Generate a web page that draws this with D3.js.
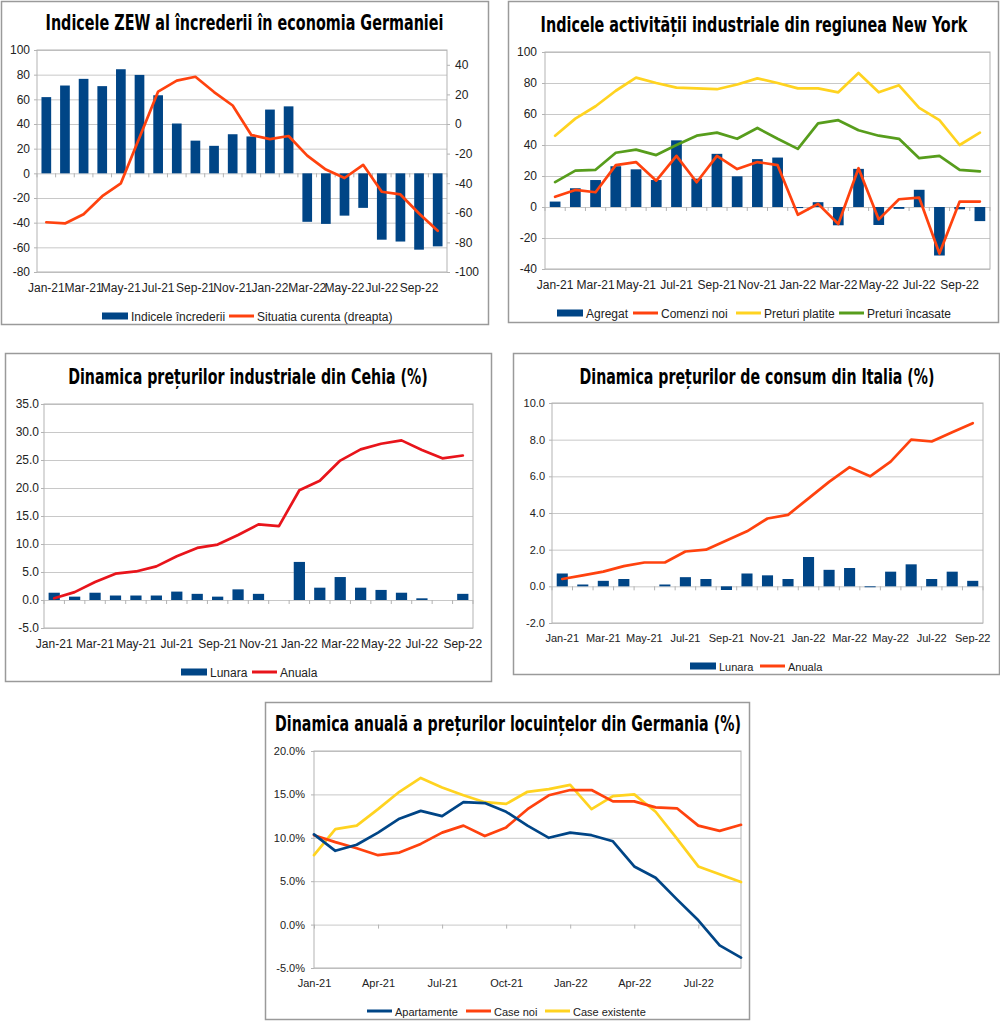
<!DOCTYPE html>
<html>
<head>
<meta charset="utf-8">
<script src="https://cdn.jsdelivr.net/npm/d3@7"></script>
<style>
body { margin: 0; background: #fff; }
svg text { font-family: "Liberation Sans", Arial, sans-serif; fill: #222; }
svg text.title { font-family: "Liberation Sans Narrow", "DejaVu Sans Condensed", sans-serif; font-weight: bold; fill: #000; }
</style>
</head>
<body>
<svg id="chart" width="1000" height="1021"></svg>
<script>
// categories
var months22 = ["Jan-21","Feb-21","Mar-21","Apr-21","May-21","Jun-21","Jul-21","Aug-21","Sep-21","Oct-21","Nov-21","Dec-21",
                "Jan-22","Feb-22","Mar-22","Apr-22","May-22","Jun-22","Jul-22","Aug-22","Sep-22","Oct-22"];
var months21 = ["Jan-21","Feb-21","Mar-21","Apr-21","May-21","Jun-21","Jul-21","Aug-21","Sep-21","Oct-21","Nov-21","Dec-21",
                "Jan-22","Feb-22","Mar-22","Apr-22","May-22","Jun-22","Jul-22","Aug-22","Sep-22"];
var ticks2m = ["Jan-21","Mar-21","May-21","Jul-21","Sep-21","Nov-21","Jan-22","Mar-22","May-22","Jul-22","Sep-22"];
var ticks3m = ["Jan-21","Apr-21","Jul-21","Oct-21","Jan-22","Apr-22","Jul-22"];

// ZEW Germania
var zewIndex   = [61.8, 71.2, 76.6, 70.7, 84.4, 79.8, 63.3, 40.4, 26.5, 22.3, 31.7, 29.9, 51.7, 54.3, -39.3, -41.0, -34.3, -28.0, -53.8, -55.3, -61.9, -59.2];
var zewCurrent = [-66.4, -67.2, -61.0, -48.8, -40.1, -9.1, 21.9, 29.3, 31.9, 21.6, 12.5, -7.4, -10.2, -8.1, -21.4, -30.8, -36.5, -27.6, -45.8, -47.6, -60.5, -72.2];

// Empire State (New York)
var nyGeneral    = [3.5, 12.1, 17.4, 26.3, 24.3, 17.4, 43.0, 18.3, 34.3, 19.8, 30.9, 31.9, -0.7, 3.1, -11.8, 24.6, -11.6, -1.2, 11.1, -31.3, -1.5, -9.1];
var nyNewOrders  = [6.6, 11.0, 9.5, 27.0, 29.0, 17.0, 33.0, 16.0, 33.0, 24.5, 29.0, 27.0, -5.0, 2.0, -11.0, 25.0, -8.0, 5.0, 6.0, -30.0, 3.5, 3.5];
var nyPricesPaid = [46, 57, 65, 75, 83.5, 80, 77, 76.5, 76, 79, 83, 80, 76.5, 76.5, 74, 86.5, 74, 78.5, 64, 56, 40, 48];
var nyPricesRec  = [16, 23.5, 24, 35, 37, 33.5, 40, 46, 48, 44, 51, 44, 37.5, 54, 56, 49.5, 46, 44, 31.5, 33, 24, 23];

// Cehia - preturi industriale
var czMonthly = [1.3, 0.6, 1.3, 0.8, 0.8, 0.8, 1.5, 1.1, 0.6, 1.9, 1.1, 0.0, 6.8, 2.2, 4.1, 2.2, 1.8, 1.3, 0.3, 0.0, 1.1];
var czAnnual  = [0.3, 1.4, 3.2, 4.7, 5.1, 6.0, 7.8, 9.3, 9.9, 11.6, 13.5, 13.2, 19.6, 21.3, 24.9, 26.9, 27.9, 28.5, 26.8, 25.3, 25.8];

// Italia - preturi de consum
var itMonthly = [0.7, 0.1, 0.3, 0.4, 0.0, 0.1, 0.5, 0.4, -0.2, 0.7, 0.6, 0.4, 1.6, 0.9, 1.0, -0.05, 0.8, 1.2, 0.4, 0.8, 0.3];
var itAnnual  = [0.4, 0.6, 0.8, 1.1, 1.3, 1.3, 1.9, 2.0, 2.5, 3.0, 3.7, 3.9, 4.8, 5.7, 6.5, 6.0, 6.8, 8.0, 7.9, 8.4, 8.9];

// Germania - preturi locuinte
var deFlats    = [10.4, 8.5, 9.2, 10.6, 12.2, 13.1, 12.5, 14.1, 14.0, 13.0, 11.4, 10.0, 10.6, 10.3, 9.6, 6.7, 5.4, 2.9, 0.5, -2.4, -3.8];
var deNewHouse = [10.3, 9.5, 8.8, 8.0, 8.3, 9.3, 10.6, 11.4, 10.2, 11.2, 13.3, 14.9, 15.5, 15.5, 14.2, 14.2, 13.5, 13.4, 11.4, 10.8, 11.5];
var deExisting = [8.0, 11.0, 11.4, 13.3, 15.3, 16.9, 15.8, 14.9, 14.1, 13.9, 15.3, 15.6, 16.1, 13.3, 14.8, 15.0, 13.0, 9.9, 6.7, 5.8, 4.9];

var BLUE = "#004586", ORANGE = "#ff420e", YELLOW = "#ffd320", GREEN = "#579d1c", RED = "#e8141b";
var GRID = "#c8c8c8", AXIS = "#b3b3b3";

var svg = d3.select("#chart");

function box(x, y, w, h) {
    svg.append("rect")
        .attr("x", x).attr("y", y).attr("width", w).attr("height", h)
        .style("fill", "none").style("stroke", "#9a9a9a").style("stroke-width", 1.5);
}

// condensed bold title, squeezed horizontally to the reference width
function title(text, cx, y, len) {
    var g = svg.append("g");
    var t = g.append("text")
        .attr("class", "title")
        .attr("x", 0).attr("y", 0)
        .attr("text-anchor", "middle")
        .style("font-size", "22px")
        .text(text);
    var w = t.node().getComputedTextLength();
    var sx = Math.min(1, len / w);
    g.attr("transform", "translate(" + cx + "," + y + ") scale(" + sx + ",1)");
}

function cleanAxis(g, fs) {
    g.attr("font-family", null).attr("font-size", null);
    g.select(".domain").remove();
    g.selectAll(".tick line").attr("stroke", AXIS);
    g.selectAll(".tick text").attr("fill", "#222").style("font-size", fs + "px");
}

// gridlines, left labels and plot border
function valueAxis(y, l, r, ticks, fmt, fs, pad) {
    var grid = svg.append("g")
        .attr("transform", "translate(" + l + ",0)")
        .call(d3.axisLeft(y).tickValues(ticks).tickSize(-(r - l)).tickFormat(""));
    grid.select(".domain").remove();
    grid.selectAll(".tick line").attr("stroke", GRID);

    var g = svg.append("g")
        .attr("transform", "translate(" + l + ",0)")
        .call(d3.axisLeft(y).tickValues(ticks).tickSize(3).tickPadding(pad - 3).tickFormat(fmt));
    cleanAxis(g, fs);

    svg.append("rect")
        .attr("x", l).attr("y", y.range()[1])
        .attr("width", r - l).attr("height", y.range()[0] - y.range()[1])
        .style("fill", "none").style("stroke", AXIS);
}

function catLabels(x, bottom, ticks, fs) {
    var g = svg.append("g")
        .attr("transform", "translate(0," + bottom + ")")
        .call(d3.axisBottom(x).tickValues(ticks).tickSize(0).tickPadding(11));
    cleanAxis(g, fs);
}

// small ticks on the zero line between categories
function zeroTicks(x, y0) {
    var n = x.domain().length;
    svg.append("g").selectAll("line")
        .data(d3.range(n + 1))
        .enter().append("line")
            .attr("x1", function(i) { return x.range()[0] + i * x.step(); })
            .attr("x2", function(i) { return x.range()[0] + i * x.step(); })
            .attr("y1", y0).attr("y2", y0 + 4)
            .style("stroke", AXIS);
}

function bars(x, y, cats, values, color) {
    svg.append("g").selectAll("rect")
        .data(values)
        .enter().append("rect")
            .attr("x", function(d, i) { return x(cats[i]); })
            .attr("width", x.bandwidth())
            .attr("y", function(d) { return Math.min(y(d), y(0)); })
            .attr("height", function(d) { return Math.abs(y(d) - y(0)); })
            .style("fill", color);
}

function series(x, y, cats, values, color, offset) {
    var line = d3.line()
        .x(function(d, i) { return x(cats[i]) + offset; })
        .y(function(d) { return y(d); });
    svg.append("path")
        .datum(values)
        .attr("d", line)
        .style("fill", "none")
        .style("stroke", color)
        .style("stroke-width", 2.7)
        .style("stroke-linejoin", "round")
        .style("stroke-linecap", "round");
}

function legend(items, cy, fs) {
    items.forEach(function(it) {
        if (it.type === "bar") {
            svg.append("rect")
                .attr("x", it.x).attr("y", cy - 3.5)
                .attr("width", 26).attr("height", 7)
                .style("fill", it.color);
        } else {
            svg.append("line")
                .attr("x1", it.x).attr("x2", it.x + 25)
                .attr("y1", cy).attr("y2", cy)
                .style("stroke", it.color).style("stroke-width", 3);
        }
        svg.append("text")
            .attr("x", it.x + (it.type === "bar" ? 29 : 28))
            .attr("y", cy + 4.5)
            .style("font-size", fs + "px")
            .text(it.label);
    });
}

var fmt0 = function(d) { return d.toFixed(0); };
var fmt1 = function(d) { return d.toFixed(1); };
var fmtPct = function(d) { return d.toFixed(1) + "%"; };

// ---------- 1. ZEW ----------
box(1.5, 1.5, 487, 323);
title("Indicele ZEW al încrederii în economia Germaniei", 244.5, 30, 398);

var x1 = d3.scaleBand().domain(months22).range([37, 447]).paddingInner(0.48).paddingOuter(0.24);
var y1 = d3.scaleLinear().domain([-80, 100]).range([272, 50]);
var y1r = d3.scaleLinear().domain([-100, 50]).range([272, 50]);

valueAxis(y1, 37, 447, d3.range(-80, 101, 20), fmt0, 12, 7);
var r1 = svg.append("g")
    .attr("transform", "translate(447,0)")
    .call(d3.axisRight(y1r).tickValues(d3.range(-100, 41, 20)).tickSize(3).tickPadding(5).tickFormat(fmt0));
cleanAxis(r1, 12);
zeroTicks(x1, y1(0));
bars(x1, y1, months22, zewIndex, BLUE);
series(x1, y1r, months22, zewCurrent, ORANGE, x1.bandwidth() / 2);
catLabels(x1, 272, ticks2m, 12);
legend([
    {type: "bar", color: BLUE, x: 102, label: "Indicele încrederii"},
    {type: "line", color: ORANGE, x: 229, label: "Situatia curenta (dreapta)"}
], 316, 12);

// ---------- 2. New York ----------
box(508.5, 1.5, 490, 321);
title("Indicele activității industriale din regiunea New York", 754, 32, 427);

var x2 = d3.scaleBand().domain(months22).range([545, 990]).paddingInner(0.47).paddingOuter(0.235);
var y2 = d3.scaleLinear().domain([-40, 100]).range([269, 52]);

valueAxis(y2, 545, 990, d3.range(-40, 101, 20), fmt0, 12, 8);
zeroTicks(x2, y2(0));
bars(x2, y2, months22, nyGeneral, BLUE);
series(x2, y2, months22, nyPricesPaid, YELLOW, x2.bandwidth() / 2);
series(x2, y2, months22, nyPricesRec, GREEN, x2.bandwidth() / 2);
series(x2, y2, months22, nyNewOrders, ORANGE, x2.bandwidth() / 2);
catLabels(x2, 269, ticks2m, 12);
legend([
    {type: "bar", color: BLUE, x: 557, label: "Agregat"},
    {type: "line", color: ORANGE, x: 633, label: "Comenzi noi"},
    {type: "line", color: YELLOW, x: 736, label: "Preturi platite"},
    {type: "line", color: GREEN, x: 839, label: "Preturi încasate"}
], 313, 12);

// ---------- 3. Cehia ----------
box(5.5, 353.5, 486, 328);
title("Dinamica prețurilor industriale din Cehia (%)", 248, 384, 360);

var x3 = d3.scaleBand().domain(months21).range([44, 473]).paddingInner(0.45).paddingOuter(0.225);
var y3 = d3.scaleLinear().domain([-5, 35]).range([628, 404]);

valueAxis(y3, 44, 473, d3.range(-5, 36, 5), fmt1, 12, 5);
zeroTicks(x3, y3(0));
bars(x3, y3, months21, czMonthly, BLUE);
series(x3, y3, months21, czAnnual, RED, x3.bandwidth() / 2);
catLabels(x3, 628, ticks2m, 12);
legend([
    {type: "bar", color: BLUE, x: 181, label: "Lunara"},
    {type: "line", color: RED, x: 252, label: "Anuala"}
], 672, 12);

// ---------- 4. Italia ----------
box(513.5, 353.5, 486, 321);
title("Dinamica prețurilor de consum din Italia (%)", 757, 384, 355);

var x4 = d3.scaleBand().domain(months21).range([552, 983]).paddingInner(0.46).paddingOuter(0.23);
var y4 = d3.scaleLinear().domain([-2, 10]).range([623, 403]);

valueAxis(y4, 552, 983, d3.range(-2, 11, 2), fmt1, 11, 7);
zeroTicks(x4, y4(0));
bars(x4, y4, months21, itMonthly, BLUE);
series(x4, y4, months21, itAnnual, ORANGE, x4.bandwidth() / 2);
catLabels(x4, 623, ticks2m, 11);
legend([
    {type: "bar", color: BLUE, x: 690, label: "Lunara"},
    {type: "line", color: ORANGE, x: 760, label: "Anuala"}
], 666, 11);

// ---------- 5. Germania locuinte ----------
box(265.5, 702.5, 484, 317);
title("Dinamica anuală a prețurilor locuințelor din Germania (%)", 508, 731, 466);

var x5 = d3.scalePoint().domain(months21).range([314, 741]);
var y5 = d3.scaleLinear().domain([-5, 20]).range([968, 751]);

valueAxis(y5, 314, 741, d3.range(-5, 21, 5), fmtPct, 11, 9);
var t5 = svg.append("g")
    .attr("transform", "translate(0," + y5(0) + ")")
    .call(d3.axisBottom(x5).tickValues(ticks3m).tickSize(4).tickFormat(""));
cleanAxis(t5, 11);
series(x5, y5, months21, deExisting, YELLOW, 0);
series(x5, y5, months21, deNewHouse, ORANGE, 0);
series(x5, y5, months21, deFlats, BLUE, 0);
catLabels(x5, 968, ticks3m, 11);
legend([
    {type: "line", color: BLUE, x: 367, label: "Apartamente"},
    {type: "line", color: ORANGE, x: 466, label: "Case noi"},
    {type: "line", color: YELLOW, x: 545, label: "Case existente"}
], 1011, 11);
</script>
</body>
</html>
